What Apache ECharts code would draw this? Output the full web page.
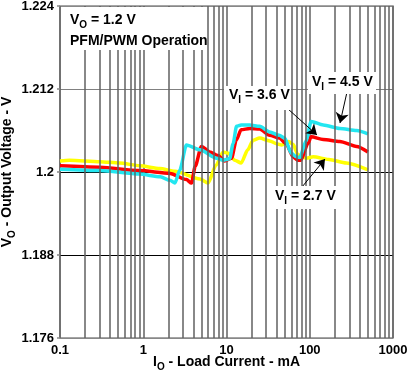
<!DOCTYPE html>
<html><head><meta charset="utf-8">
<script src="https://cdn.jsdelivr.net/npm/echarts@6/dist/echarts.min.js"></script>
<style>html,body{margin:0;padding:0;background:#fff}#c{width:419px;height:380px}</style>
</head><body><div id="c"></div>
<script>
// Tick labels
const xTicks = [0.1, 1, 10, 100, 1000];
const yTicks = [1.176, 1.188, 1.2, 1.212, 1.224];
const minorX = [0.2,0.3,0.4,0.5,0.6,0.7,0.8,0.9, 2,3,4,5,6,7,8,9, 20,30,40,50,60,70,80,90, 200,300,400,500,600,700,800,900];

// V_I = 2.7 V (yellow)
const load27 = [0.1, 0.13, 0.3, 0.52, 0.91, 1.58, 2.4, 4.8, 6.0, 7.5, 9.1, 10.5, 12.6, 15, 18, 20.9, 25, 33, 40, 46, 56, 63, 72, 91, 110, 170, 275, 500];
const vout27 = [1.2016, 1.2017, 1.2015, 1.2013, 1.2009, 1.2005, 1.2001, 1.1990, 1.1984, 1.2010, 1.2029, 1.2027, 1.2017, 1.2013, 1.2032, 1.2046, 1.2049, 1.2045, 1.2041, 1.2039, 1.2044, 1.2040, 1.2025, 1.2020, 1.2022, 1.2018, 1.2013, 1.2003];

// V_I = 3.6 V (red)
const load36 = [0.1, 0.3, 0.9, 2.1, 3.3, 3.8, 4.2, 5.0, 6.3, 7.9, 9.5, 11.5, 13.1, 15, 19, 25, 33, 43, 52, 63, 72, 78, 95, 104, 145, 230, 365, 500];
const vout36 = [1.2009, 1.2007, 1.2002, 1.1998, 1.1989, 1.1984, 1.2008, 1.2037, 1.2029, 1.2024, 1.2016, 1.2020, 1.2046, 1.2061, 1.2063, 1.2062, 1.2053, 1.2049, 1.2041, 1.2022, 1.2017, 1.2017, 1.2041, 1.2051, 1.2047, 1.2044, 1.2037, 1.2029];

// V_I = 4.5 V (cyan)
const load45 = [0.1, 0.3, 0.9, 1.6, 2.1, 2.4, 2.75, 3.3, 4.8, 7.6, 9.1, 10.9, 12, 13.2, 15, 19, 25, 33, 43, 50, 60, 69, 76, 90, 104, 145, 230, 365, 500];
const vout45 = [1.2004, 1.2002, 1.1997, 1.1993, 1.1988, 1.1984, 1.2003, 1.2039, 1.2032, 1.2020, 1.2017, 1.2019, 1.2041, 1.2066, 1.2068, 1.2068, 1.2066, 1.2058, 1.2053, 1.2049, 1.2027, 1.2022, 1.2021, 1.2045, 1.2073, 1.2068, 1.2063, 1.2060, 1.2055];

const F = "Arial, 'Liberation Sans', sans-serif";
const R = {
  m: {fontSize: 14, fontWeight: 'bold', fontFamily: F, color: '#000', lineHeight: 14, verticalAlign: 'top'},
  s: {fontSize: 10, fontWeight: 'bold', fontFamily: F, color: '#000', lineHeight: 10, verticalAlign: 'top', padding: [7, 0, 0, 0]}
};
const zip = (a, b) => a.map((v, i) => [v, b[i]]);

const chart = echarts.init(document.getElementById('c'), null, {renderer: 'canvas'});
const curve = (name, xs, ys, color) => ({
  name, type: 'line', data: zip(xs, ys), showSymbol: false, symbol: 'none',
  smooth: 0.25, smoothMonotone: 'x', z: 3,
  lineStyle: {color, width: 3.5}, itemStyle: {color}
});

chart.setOption({
  animation: false,
  grid: {left: 60, right: 26, top: 6, bottom: 42, containLabel: false, outerBoundsMode: 'none', show: true,
         borderColor: '#888', borderWidth: 1.5, backgroundColor: '#fff'},
  xAxis: {
    type: 'log', logBase: 10, min: xTicks[0], max: xTicks[xTicks.length - 1],
    axisLine: {show: false}, axisTick: {show: false},
    axisLabel: {fontSize: 13, fontWeight: 'bold', fontFamily: F, color: '#000', margin: 6,
                showMinLabel: true, showMaxLabel: true,
                formatter: v => { const t = xTicks.find(k => Math.abs(Math.log10(k) - Math.log10(v)) < 1e-6); return t === undefined ? '' : String(t); }},
    splitLine: {show: true, lineStyle: {color: '#606060', width: 1.5}},
    name: '{m|I}{s|O}{m| - Load Current - mA}', nameLocation: 'middle', nameGap: 17, nameMoveOverlap: false,
    nameTextStyle: {rich: R}
  },
  yAxis: {
    type: 'value', min: yTicks[0], max: yTicks[yTicks.length - 1], interval: 0.012,
    axisLine: {show: false},
    axisTick: {show: true, length: 3, lineStyle: {color: '#888', width: 1.5}},
    axisLabel: {fontSize: 13, fontWeight: 'bold', fontFamily: F, color: '#000', margin: 6,
                formatter: v => { const t = yTicks.find(k => Math.abs(k - v) < 1e-6); return t === undefined ? '' : String(t); }},
    splitLine: {show: true, lineStyle: {color: ['#888', '#000', '#000', '#808080', '#888'], width: 1.2}},
    name: '{m|V}{s|O}{m| - Output Voltage - V}', nameLocation: 'middle', nameGap: 46, nameMoveOverlap: false,
    nameTextStyle: {rich: R}
  },
  series: [
    {
      name: 'grid', type: 'line', data: [[xTicks[0], yTicks[2]]], symbol: 'none', silent: true, z: 1,
      lineStyle: {opacity: 0},
      markLine: {silent: true, symbol: 'none', animation: false, label: {show: false},
                 lineStyle: {color: '#606060', width: 1.5, type: 'solid'},
                 data: minorX.map(v => ({xAxis: v}))}
    },
    curve('V_I = 2.7 V', load27, vout27, '#ffff00'),
    curve('V_I = 3.6 V', load36, vout36, '#ff0000'),
    curve('V_I = 4.5 V', load45, vout45, '#22e6f0'),
    {
      name: 'arrows', type: 'line', data: [], z: 12, silent: true,
      markLine: {silent: true, animation: false, symbol: ['none', 'arrow'], symbolSize: 10,
                 label: {show: false}, lineStyle: {color: '#000', width: 1, type: 'solid'},
                 data: [
                   [{x: 278, y: 100}, {x: 317, y: 135}],
                   [{x: 347, y: 92}, {x: 340, y: 123}],
                   [{x: 302, y: 187}, {x: 325, y: 159}]
                 ]}
    }
  ],
  graphic: [
    {type: 'rect', z: 10, shape: {x: 61, y: 7, width: 142, height: 43}, style: {fill: '#fff'}},
    {type: 'rect', z: 10, shape: {x: 224, y: 86, width: 67, height: 24}, style: {fill: '#fff'}},
    {type: 'rect', z: 10, shape: {x: 308, y: 72, width: 68, height: 22}, style: {fill: '#fff'}},
    {type: 'rect', z: 10, shape: {x: 274, y: 186, width: 62, height: 23}, style: {fill: '#fff'}},
    {type: 'text', z: 11, left: 70, top: 13, style: {text: '{m|V}{s|O}{m| = 1.2 V}', rich: R}},
    {type: 'text', z: 11, left: 70, top: 34, style: {text: '{m|PFM/PWM Operation}', rich: R}},
    {type: 'text', z: 11, left: 229, top: 88, style: {text: '{m|V}{s|I}{m| = 3.6 V}', rich: R}},
    {type: 'text', z: 11, left: 312, top: 75, style: {text: '{m|V}{s|I}{m| = 4.5 V}', rich: R}},
    {type: 'text', z: 11, left: 275, top: 189, style: {text: '{m|V}{s|I}{m| = 2.7 V}', rich: R}}
  ]
});
</script>
</body></html>
